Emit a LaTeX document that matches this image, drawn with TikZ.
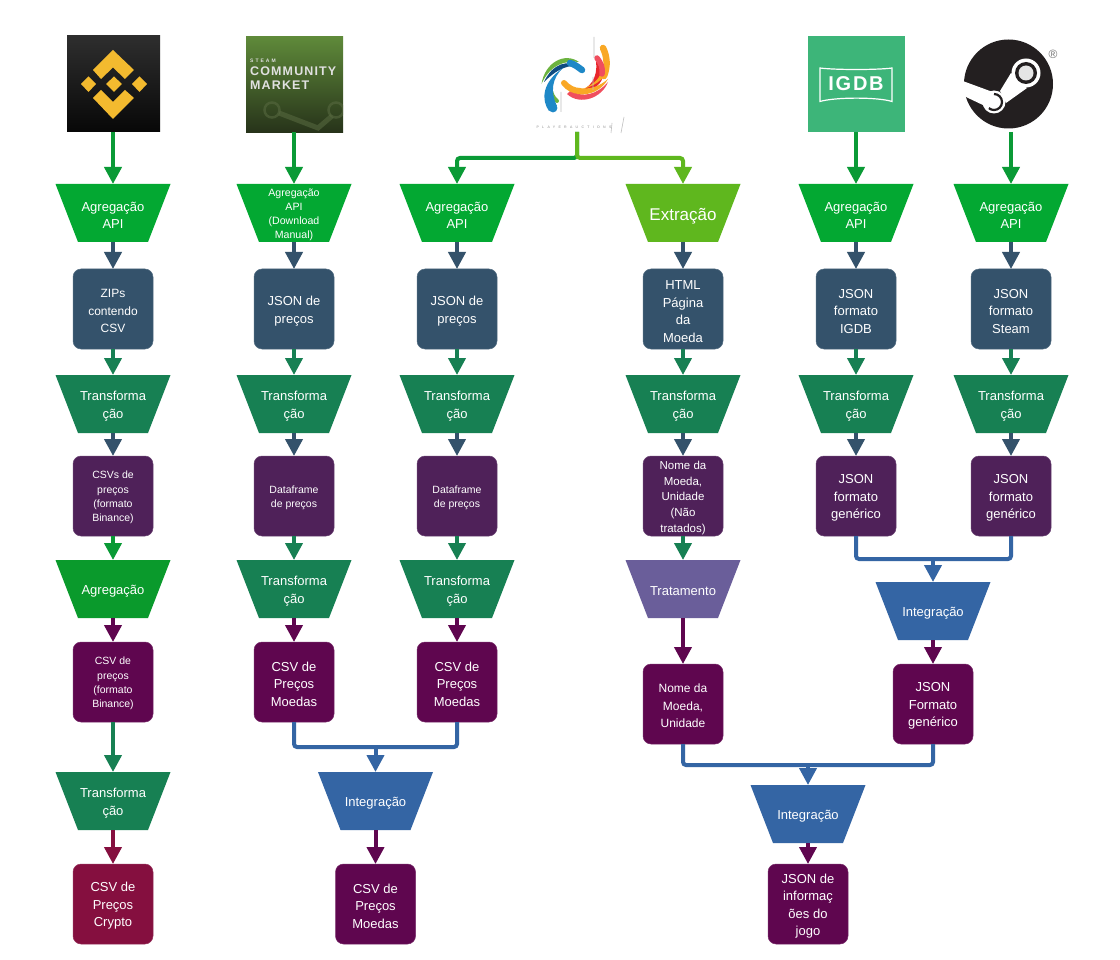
\documentclass[tikz,border=0pt]{standalone}
\usepackage{fontspec}
\setmainfont{Liberation Sans}
\newfontfamily\spacedfont[LetterSpace=95]{Liberation Sans}
\newfontfamily\scmfont[LetterSpace=9]{Liberation Sans}
\newfontfamily\scmsmall[LetterSpace=40]{Liberation Sans}
\usetikzlibrary{arrows.meta}
\newcommand{\drp}{\rule{0pt}{1.05em}}
\definecolor{cGreen}{HTML}{03A832}
\definecolor{cGreenB}{HTML}{0A9A2C}
\definecolor{cArrowG}{HTML}{0A9A36}
\definecolor{cTeal}{HTML}{178053}
\definecolor{cLime}{HTML}{5FB71E}
\definecolor{cNavy}{HTML}{34526B}
\definecolor{cPurple}{HTML}{4F2159}
\definecolor{cPlum}{HTML}{5F064F}
\definecolor{cCrimson}{HTML}{850F3F}
\definecolor{cBlue}{HTML}{3465A4}
\definecolor{cViolet}{HTML}{6A5E9A}
\definecolor{bYellow}{HTML}{F3BA2F}
\definecolor{sTop}{HTML}{5F8A3A}
\definecolor{sBot}{HTML}{27331A}
\definecolor{sMark}{HTML}{56683F}
\definecolor{pGreen}{HTML}{6CB33F}
\definecolor{pNavy}{HTML}{0F4C81}
\definecolor{pBlue}{HTML}{1E88C7}
\definecolor{pOrange}{HTML}{F9A825}
\definecolor{pPink}{HTML}{F04E5E}
\definecolor{pRed}{HTML}{E8262B}
\definecolor{igdbG}{HTML}{3DB579}
\definecolor{stBlack}{HTML}{231F20}
\tikzset{
  tz/.style={rectangle,minimum width=115pt,minimum height=58pt,inner sep=0pt,outer sep=0pt,
    path picture={\fill[#1] (path picture bounding box.north west)
      -- (path picture bounding box.north east)
      -- ([xshift=-22.5pt]path picture bounding box.south east)
      -- ([xshift=22.5pt]path picture bounding box.south west) -- cycle;},
    text=white,align=center,font=\fontsize{13}{17.5}\selectfont},
  bx/.style={rectangle,rounded corners=8pt,minimum width=80pt,minimum height=80pt,
    inner sep=0pt,outer sep=0pt,fill=#1,draw=#1!85!white,line width=.5pt,text=white,align=center,
    font=\fontsize{13}{17.5}\selectfont},
  small/.style={font=\fontsize{10.5}{14.3}\selectfont},
  logo/.style={rectangle,minimum width=#1,minimum height=96pt,inner sep=0pt,outer sep=0pt},
  conn/.style={draw=#1,line width=4pt,rounded corners=3pt,-{Triangle[length=17pt,width=17pt]}},
  seg/.style={draw=#1,line width=4pt,rounded corners=3pt},
  stroke/.style={line width=#1,line cap=round}
}
\begin{document}
\begin{tikzpicture}[x=1pt,y=-1pt]
\useasboundingbox (0,0) rectangle (1120,960);
\fill[white] (0,0) rectangle (1120,960);

% --- logos ---
\node[logo=93pt,top color=black!82,bottom color=black!97] (lBin) at (113.5,84) {};
\fill[bYellow] (113,50) -- (134,70) -- (125,79) -- (113,67.5) -- (101,79) -- (93,70) -- cycle;
\fill[bYellow] (113,119) -- (134,98) -- (125,90) -- (113,102) -- (101,90) -- (93,98) -- cycle;
\fill[bYellow] (114,76.5) -- (122,84) -- (114,92) -- (106,84) -- cycle;
\fill[bYellow] (132,84) -- (139.5,76.5) -- (147,84) -- (139.5,92) -- cycle;
\fill[bYellow] (81,84) -- (88.5,76.5) -- (96,84) -- (88.5,92) -- cycle;

\node[logo=97pt,top color=sTop,bottom color=sBot] (lScm) at (294.5,84.5) {};
\begin{scope}
\clip (246,36) rectangle (343,133);
\draw[line width=2.5pt,draw=sMark,opacity=.6] (272,110) circle (7.5);
\draw[line width=2.5pt,draw=sMark,opacity=.6] (336,110) circle (7.5);
\draw[line width=5pt,draw=sMark,opacity=.6] (279,113) -- (318,128) -- (332,116);
\end{scope}
\node[text=white!88!black,font=\scmsmall\fontsize{5}{6}\bfseries\selectfont,anchor=west,inner sep=0pt] (tScm1) at (250,61) {STEAM};
\node[text=white!88!black,font=\scmfont\fontsize{12.5}{14}\bfseries\selectfont,anchor=west,inner sep=0pt] (tScm2) at (250,71) {COMMUNITY};
\node[text=white!88!black,font=\scmfont\fontsize{12.5}{14}\bfseries\selectfont,anchor=west,inner sep=0pt] (tScm3) at (250,85.5) {MARKET};

% PlayerAuctions
\node[logo=100pt] (lPa) at (577,84) {};
\fill[pGreen] (541.5,84) .. controls (545,62) and (565,52) .. (579,62) .. controls (565,60) and (550,65) .. cycle;
\fill[pNavy] (544,82) .. controls (552,64) and (568,58) .. (583,68) .. controls (570,62) and (556,70) .. cycle;
\draw[stroke=6.5pt,pBlue] (570,63) .. controls (574,64) and (578,67) .. (582,70);
\draw[stroke=4pt,pGreen] (550,87) .. controls (551,93) and (553,98) .. (557,101);
\fill[pBlue] (549,111) .. controls (541,100) and (542,82) .. (563,68) .. controls (552,78) and (550,92) .. (557,106) -- cycle;
\fill[pBlue] (553,108) circle (4.4);
\fill[pRed] (600,60) .. controls (606,70) and (604,80) .. (597,86) .. controls (590,91) and (584,93) .. (578,92) .. controls (590,88) and (598,78) .. (596,62) -- cycle;
\draw[stroke=6.5pt,pOrange] (603,48) .. controls (607,56) and (608,66) .. (604,76);
\fill[pOrange] (607,70) .. controls (604,80) and (594,86) .. (583,89) .. controls (594,84) and (601,78) .. (601,70) -- cycle;
\draw[stroke=5.5pt,pPink] (597,58) .. controls (601,63) and (603,68) .. (602,74);
\fill[pPink] (608,82) .. controls (602,98) and (580,106) .. (567,94) -- (571,90) .. controls (582,99) and (598,94) .. cycle;
\draw[stroke=6pt,pOrange] (564,83) .. controls (568,88) and (574,91) .. (580,91);
\fill[pOrange] (578,88) .. controls (590,90) and (600,86) .. (608,79) .. controls (602,90) and (590,96) .. (577,94) -- cycle;
\draw[line width=.6pt,black!25] (594,37) -- (594,58) (561,92) -- (561,112) (593,77) -- (593,90) (624,117) -- (621,133) (612,123) -- (611,133);
\node[text=black!45,inner sep=0pt,font=\spacedfont\fontsize{3.5}{4}\selectfont] (tPa) at (574,127) {PLAYERAUCTIONS};

\node[logo=97pt,fill=igdbG] (lIg) at (856.5,84.5) {};
\draw[white,line width=1.2pt] (820,68) .. controls (835,70) and (878,70) .. (892,68) -- (892,101.5) .. controls (878,97) and (835,97) .. (820,101.5) -- cycle;
\node[text=white,font=\scmfont\fontsize{20}{22}\bfseries\selectfont,inner sep=0pt] (tIg) at (856,84) {IGDB};

\node[logo=96pt] (lSt) at (1011,84) {};
\fill[stBlack] (1008.5,84) circle (44.5);
\fill[white] (960,80) -- (990,91) -- (1000,92) -- (1002,106) -- (985,106) -- (966,97) -- (960,95) -- cycle;
\fill[white] (1011,73) -- (1000,91) -- (1006,103) -- (1027,88) -- cycle;
\fill[white] (1026,73) circle (14.5);
\fill[stBlack] (1026,73) circle (11);
\fill[white!90!black] (1026,73) circle (7.5);
\fill[white] (994,102) circle (11.5);
\draw[stBlack,line width=2.2pt] (994,94) arc (-90:130:8);
\node[text=black!55,inner sep=0pt,font=\fontsize{12}{13}\selectfont] (tSt) at (1053,54) {®};

% --- column A ---
\node[tz=cGreen] (a1) at (113,213) {\drp Agregação\\API};
\node[bx=cNavy,font=\fontsize{12}{17.5}\selectfont] (a2) at (113,309) {\drp ZIPs\\contendo\\CSV};
\node[tz=cTeal] (a3) at (113,404) {\drp Transforma\\ção};
\node[bx=cPurple,small] (a4) at (113,496) {\drp CSVs de\\preços\\(formato\\Binance)};
\node[tz=cGreenB] (a5) at (113,589) {\drp Agregação};
\node[bx=cPlum,small] (a6) at (113,682) {\drp CSV de\\preços\\(formato\\Binance)};
\node[tz=cTeal] (a7) at (113,801) {\drp Transforma\\ção};
\node[bx=cCrimson] (a8) at (113,904) {\drp CSV de\\Preços\\Crypto};
% --- column B ---
\node[tz=cGreen,font=\fontsize{10.6}{14.3}\selectfont] (b1) at (294,213) {\drp Agregação\\API\\(Download\\Manual)};
\node[bx=cNavy] (b2) at (294,309) {\drp JSON de\\preços};
\node[tz=cTeal] (b3) at (294,404) {\drp Transforma\\ção};
\node[bx=cPurple,small] (b4) at (294,496) {\drp Dataframe\\de preços};
\node[tz=cTeal] (b5) at (294,589) {\drp Transforma\\ção};
\node[bx=cPlum] (b6) at (294,682) {\drp CSV de\\Preços\\Moedas};
% --- column C ---
\node[tz=cGreen] (c1) at (457,213) {\drp Agregação\\API};
\node[bx=cNavy] (c2) at (457,309) {\drp JSON de\\preços};
\node[tz=cTeal] (c3) at (457,404) {\drp Transforma\\ção};
\node[bx=cPurple,small] (c4) at (457,496) {\drp Dataframe\\de preços};
\node[tz=cTeal] (c5) at (457,589) {\drp Transforma\\ção};
\node[bx=cPlum] (c6) at (457,682) {\drp CSV de\\Preços\\Moedas};
% --- integration B/C ---
\node[tz=cBlue] (i1) at (375.5,801) {\drp Integração};
\node[bx=cPlum] (i2) at (375.5,904) {\drp CSV de\\Preços\\Moedas};
% --- column D ---
\node[tz=cLime,font=\fontsize{17}{20}\selectfont] (d1) at (683,213) {\drp Extração};
\node[bx=cNavy] (d2) at (683,309) {\drp HTML\\Página\\da\\Moeda};
\node[tz=cTeal] (d3) at (683,404) {\drp Transforma\\ção};
\node[bx=cPurple,font=\fontsize{11.5}{15.8}\selectfont] (d4) at (683,496) {\drp Nome da\\Moeda,\\Unidade\\(Não\\tratados)};
\node[tz=cViolet] (d5) at (683,589) {\drp Tratamento};
\node[bx=cPlum,font=\fontsize{12}{17.5}\selectfont] (d6) at (683,704) {\drp Nome da\\Moeda,\\Unidade};
% --- column E ---
\node[tz=cGreen] (e1) at (856,213) {\drp Agregação\\API};
\node[bx=cNavy] (e2) at (856,309) {\drp JSON\\formato\\IGDB};
\node[tz=cTeal] (e3) at (856,404) {\drp Transforma\\ção};
\node[bx=cPurple] (e4) at (856,496) {\drp JSON\\formato\\genérico};
% --- column F ---
\node[tz=cGreen] (f1) at (1011,213) {\drp Agregação\\API};
\node[bx=cNavy] (f2) at (1011,309) {\drp JSON\\formato\\Steam};
\node[tz=cTeal] (f3) at (1011,404) {\drp Transforma\\ção};
\node[bx=cPurple] (f4) at (1011,496) {\drp JSON\\formato\\genérico};
% --- integration E/F ---
\node[tz=cBlue] (j1) at (933,611) {\drp Integração};
\node[bx=cPlum] (j2) at (933,704) {\drp JSON\\Formato\\genérico};
% --- final integration ---
\node[tz=cBlue] (k1) at (808,814) {\drp Integração};
\node[bx=cPlum] (k2) at (808,904) {\drp JSON de\\informaç\\ões do\\jogo};

% --- junction points ---
\coordinate (mBC) at (375.5,747);
\coordinate (mEF) at (933,559);
\coordinate (mK) at (808,765);
\coordinate (mPa) at (577,158);

% --- connectors: column A ---
\draw[conn=cArrowG] (lBin.south -| a1) -- (a1.north);
\draw[conn=cNavy] (a1.south) -- (a2.north);
\draw[conn=cTeal] (a2.south) -- (a3.north);
\draw[conn=cNavy] (a3.south) -- (a4.north);
\draw[conn=cArrowG] (a4.south) -- (a5.north);
\draw[conn=cPlum] (a5.south) -- (a6.north);
\draw[conn=cTeal] (a6.south) -- (a7.north);
\draw[conn=cCrimson] (a7.south) -- (a8.north);
% column B
\draw[conn=cArrowG] (lScm.south -| b1) -- (b1.north);
\draw[conn=cNavy] (b1.south) -- (b2.north);
\draw[conn=cTeal] (b2.south) -- (b3.north);
\draw[conn=cNavy] (b3.south) -- (b4.north);
\draw[conn=cTeal] (b4.south) -- (b5.north);
\draw[conn=cPlum] (b5.south) -- (b6.north);
% column C
\draw[conn=cArrowG] (lPa.south) -- (mPa) -| (c1.north);
\draw[conn=cNavy] (c1.south) -- (c2.north);
\draw[conn=cTeal] (c2.south) -- (c3.north);
\draw[conn=cNavy] (c3.south) -- (c4.north);
\draw[conn=cTeal] (c4.south) -- (c5.north);
\draw[conn=cPlum] (c5.south) -- (c6.north);
% column D
\draw[conn=cLime] (lPa.south) -- (mPa) -| (d1.north);
\draw[conn=cNavy] (d1.south) -- (d2.north);
\draw[conn=cTeal] (d2.south) -- (d3.north);
\draw[conn=cNavy] (d3.south) -- (d4.north);
\draw[conn=cTeal] (d4.south) -- (d5.north);
\draw[conn=cPlum] (d5.south) -- (d6.north);
% column E
\draw[conn=cArrowG] (lIg.south -| e1) -- (e1.north);
\draw[conn=cNavy] (e1.south) -- (e2.north);
\draw[conn=cTeal] (e2.south) -- (e3.north);
\draw[conn=cNavy] (e3.south) -- (e4.north);
% column F
\draw[conn=cArrowG] (lSt.south -| f1) -- (f1.north);
\draw[conn=cNavy] (f1.south) -- (f2.north);
\draw[conn=cTeal] (f2.south) -- (f3.north);
\draw[conn=cNavy] (f3.south) -- (f4.north);
% merges
\draw[seg=cBlue] (b6.south) |- (mBC) -| (c6.south);
\draw[conn=cBlue] (mBC) -- (i1.north);
\draw[conn=cPlum] (i1.south) -- (i2.north);
\draw[seg=cBlue] (e4.south) |- (mEF) -| (f4.south);
\draw[conn=cBlue] (mEF) -- (j1.north);
\draw[conn=cPlum] (j1.south) -- (j2.north);
\draw[seg=cBlue] (d6.south) |- (mK) -| (j2.south);
\draw[conn=cBlue] (mK) -- (k1.north);
\draw[conn=cPlum] (k1.south) -- (k2.north);
\end{tikzpicture}
\end{document}
